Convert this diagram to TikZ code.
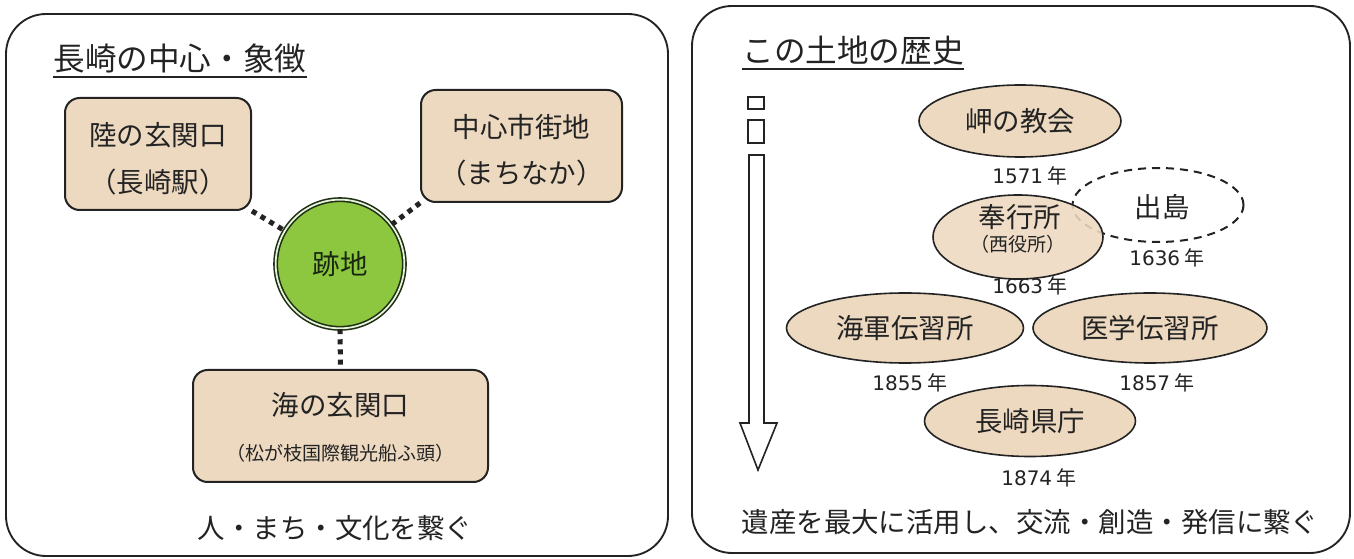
\documentclass[tikz,border=0pt]{standalone}
\usepackage{fontspec}
\setmainfont{Noto Sans CJK JP}
\newfontfamily\digitfont{DejaVu Sans}
\usetikzlibrary{shapes.geometric}
\definecolor{beige}{RGB}{237,217,192}
\definecolor{leaf}{RGB}{141,198,63}
\definecolor{ink}{RGB}{35,35,35}
\definecolor{ring}{RGB}{30,48,22}
\begin{document}
\begin{tikzpicture}[x=0.75pt,y=-0.75pt,
  panel/.style={draw=ink,line width=1.4pt,rounded corners=30pt},
  gatebox/.style={draw=ink,fill=beige,line width=1.5pt,rounded corners=11pt,inner sep=0pt,minimum height=84pt},
  oval/.style={ellipse,draw=ink,fill=beige,line width=1.2pt,inner sep=0pt,text=ink},
  ttl/.style={text=ink,font=\fontsize{23.7pt}{26pt}\selectfont,inner sep=0pt},
  big/.style={text=ink,font=\fontsize{20.6pt}{24pt}\selectfont,inner sep=0pt},
  small/.style={text=ink,font=\fontsize{14.3pt}{17pt}\selectfont,inner sep=0pt},
  year/.style={text=ink,font=\fontsize{15pt}{18pt}\selectfont,inner sep=0pt},
  dots/.style={draw=ink,line width=3.8pt,dash pattern=on 3.8pt off 3.8pt},
  shapeline/.style={draw=ink,line width=1.2pt}]
\useasboundingbox (0,0) rectangle (1354,559);
\fill[white] (0,0) rectangle (1354,559);

% ---------- left panel ----------
\draw[panel] (6,14) rectangle (668,556);
\node[ttl] (lt) at (180,58) {長崎の中心・象徴};
\draw[ink,line width=1.2pt] ([yshift=-3pt]lt.south west) -- ([yshift=-3pt]lt.south east);

\node[gatebox,minimum width=139.5pt] (land) at (158,154) {};
\node[big] (landA) at (158,135) {陸の玄関口};
\node[big] (landB) at (158,182) {（長崎駅）};

\node[gatebox,minimum width=150.75pt] (city) at (521.5,146) {};
\node[big] (cityA) at (521.5,127) {中心市街地};
\node[big] (cityB) at (521.5,173) {（まちなか）};

\node[gatebox,minimum width=221.25pt] (sea) at (340.5,426) {};
\node[big] (seaA) at (340.5,405) {海の玄関口};
\node[small] (seaB) at (340.5,453) {（松が枝国際観光船ふ頭）};

\node[circle,fill=leaf,draw=ring,line width=1.2pt,double=white!80!leaf,double distance=1.3pt,
      minimum size=96.5pt,inner sep=0pt,text=ring!80!black,font=\fontsize{20.6pt}{24pt}\selectfont] (site) at (340,264) {跡地};

\draw[dots] (land.south east) -- (site);
\draw[dots] (city.south west) -- (site);
\draw[dots] (site.south) -- (sea.north);

\node[big] (lbottom) at (335,528) {人・まち・文化を繋ぐ};

% ---------- right panel ----------
\draw[panel] (692,6) rectangle (1350,553);
\node[ttl] (rt) at (853,50) {この土地の歴史};
\draw[ink,line width=1.2pt] ([yshift=-3pt]rt.south west) -- ([yshift=-3pt]rt.south east);

% time arrow
\draw[shapeline] (748,97) rectangle (764,109);
\draw[shapeline] (748,120) rectangle (764,143);
\draw[shapeline] (749,155) -- (764,155) -- (764,423) -- (777,423) -- (758,470) -- (740,423) -- (749,423) -- cycle;

\node[oval,minimum width=151.5pt,minimum height=54pt,font=\fontsize{20.6pt}{24pt}\selectfont] (misaki) at (1020,121) {岬の教会};
\node[year] (y1571) at (1030,176) {{\digitfont 1571} 年};

\node[ellipse,draw=ink,line width=1.5pt,dash pattern=on 6pt off 4.5pt,minimum width=128.25pt,minimum height=55.5pt,inner sep=0pt] (dejima) at (1158,205) {};
\node[oval,fill opacity=0.88,minimum width=127.5pt,minimum height=63pt] (bugyo) at (1018,237) {};
\node[big] (bugyoA) at (1020,217) {奉行所};
\node[small] (bugyoB) at (1018,244) {（西役所）};
\node[big] (dejimaT) at (1162,207) {出島};
\node[year] (y1636) at (1167,258) {{\digitfont 1636} 年};
\node[year] (y1663) at (1030,286) {{\digitfont 1663} 年};

\node[oval,minimum width=177.75pt,minimum height=52.5pt,font=\fontsize{20.6pt}{24pt}\selectfont] (navy) at (905,328) {海軍伝習所};
\node[oval,minimum width=175.5pt,minimum height=52.5pt,font=\fontsize{20.6pt}{24pt}\selectfont] (med) at (1150,328) {医学伝習所};
\node[year] (y1855) at (910,383) {{\digitfont 1855} 年};
\node[year] (y1857) at (1157,383) {{\digitfont 1857} 年};

\node[oval,minimum width=158.25pt,minimum height=53.25pt,font=\fontsize{20.6pt}{24pt}\selectfont] (pref) at (1030,421) {長崎県庁};
\node[year] (y1874) at (1039,478) {{\digitfont 1874} 年};

\node[big] (rbottom) at (1030,522) {遺産を最大に活用し、交流・創造・発信に繋ぐ};
\end{tikzpicture}
\end{document}
